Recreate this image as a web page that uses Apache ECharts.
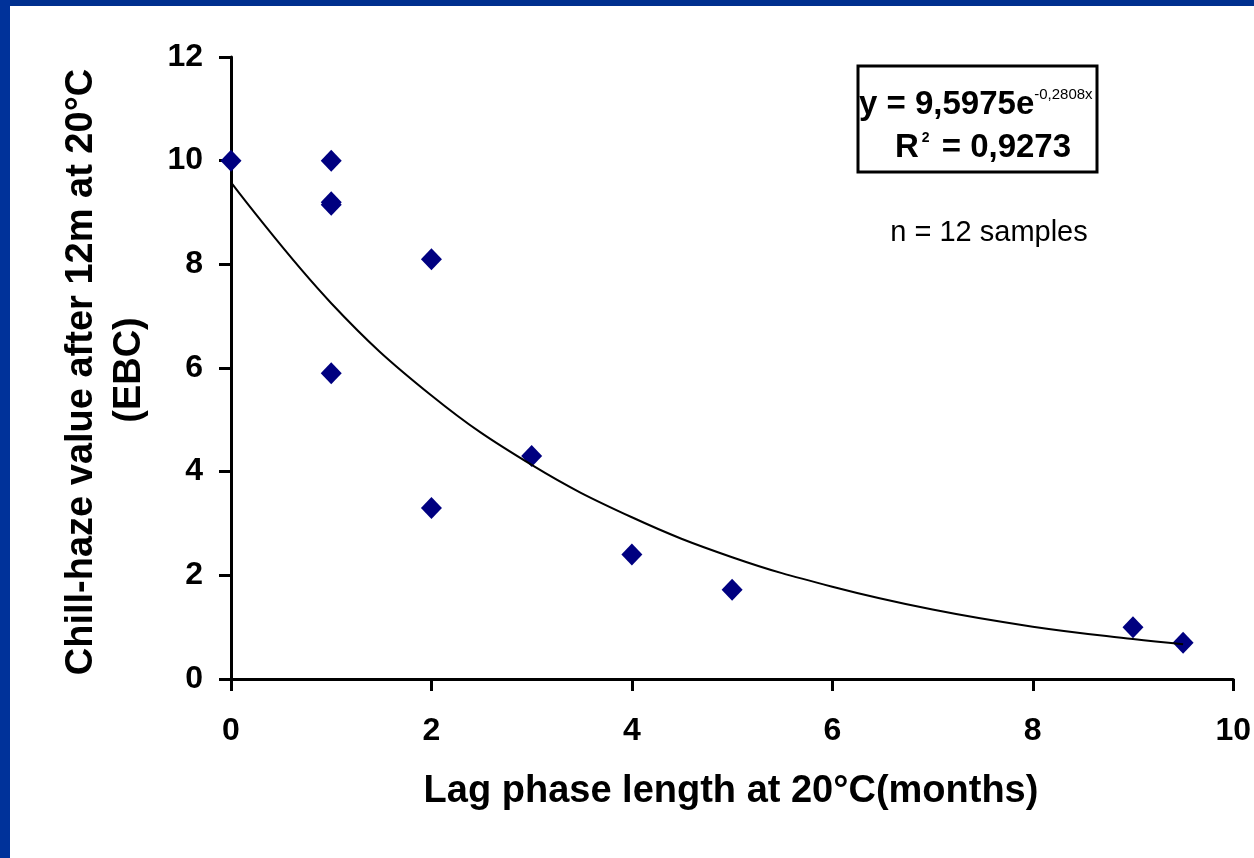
<!DOCTYPE html>
<html><head><meta charset="utf-8">
<script src="https://cdn.jsdelivr.net/npm/echarts@6/dist/echarts.min.js"></script>
<style>html,body{margin:0;padding:0;background:#fff}#c{width:1254px;height:858px}</style>
</head><body><div id="c"></div>
<script>
// Observed samples: lag phase (months) vs chill-haze (EBC)
const lagMonths = [0, 1, 1, 1, 1, 2, 2, 3, 4, 5, 9, 9.5];
const chillHaze = [10.0, 10.0, 9.2, 9.15, 5.9, 8.1, 3.3, 4.3, 2.4, 1.72, 1.0, 0.7];
// Exponential trend line
const trendX = [0, 1, 2, 3, 4, 5, 6, 7, 8, 9, 9.5];
const trendY = [9.58, 7.25, 5.47, 4.13, 3.12, 2.35, 1.78, 1.34, 1.01, 0.77, 0.67];
const xTicks = [0, 2, 4, 6, 8, 10];
const yTicks = [0, 2, 4, 6, 8, 10, 12];
const xTitle = 'Lag phase length at 20°C(months)';
const yTitle1 = 'Chill-haze value after 12m at 20°C';
const yTitle2 = '(EBC)';
const eqMain = 'y = 9,5975e';
const eqExp = '-0,2808x';
const r2Text = '= 0,9273';
const nText = 'n = 12 samples';

const FONT = '"Liberation Sans", Arial, sans-serif';
const chart = echarts.init(document.getElementById('c'), null, {renderer: 'canvas'});
const axisCommon = {
  axisLine: {show: true, lineStyle: {color: '#000', width: 3}},
  axisTick: {show: true, inside: false, length: 12, lineStyle: {color: '#000', width: 3}},
  splitLine: {show: false},
};
chart.setOption({
  animation: false,
  backgroundColor: '#fff',
  grid: {left: 231, top: 57, right: 17, bottom: 179, containLabel: false},
  xAxis: Object.assign({
    type: 'value', min: xTicks[0], max: xTicks[xTicks.length - 1], interval: 2,
    axisLabel: {color: '#000', fontFamily: FONT, fontWeight: 'bold', fontSize: 32, margin: 36, showMaxLabel: true}
  }, axisCommon),
  yAxis: Object.assign({
    type: 'value', min: yTicks[0], max: yTicks[yTicks.length - 1], interval: 2,
    axisLabel: {color: '#000', fontFamily: FONT, fontWeight: 'bold', fontSize: 32, margin: 28}
  }, axisCommon),
  series: [
    {
      type: 'scatter', symbol: 'diamond', symbolSize: [21, 22],
      itemStyle: {color: '#000080', opacity: 1},
      emphasis: {disabled: true},
      data: lagMonths.map((x, i) => [x, chillHaze[i]]), z: 2
    },
    {
      type: 'line', smooth: 0.4, showSymbol: false, symbol: 'none',
      lineStyle: {color: '#000', width: 2},
      data: trendX.map((x, i) => [x, trendY[i]]), z: 3
    }
  ],
  graphic: [
    {type: 'rect', shape: {x: 0, y: 0, width: 1254, height: 6}, style: {fill: '#00308f'}, z: 100},
    {type: 'rect', shape: {x: 0, y: 0, width: 10, height: 858}, style: {fill: '#00329a'}, z: 100},
    {type: 'text', x: 731, y: 792, style: {text: xTitle, fill: '#000', font: 'bold 38px ' + FONT, textAlign: 'center', textVerticalAlign: 'middle'}},
    {type: 'text', x: 82, y: 372, rotation: Math.PI / 2, style: {text: yTitle1, fill: '#000', font: 'bold 38px ' + FONT, textAlign: 'center', textVerticalAlign: 'middle'}},
    {type: 'text', x: 130, y: 370, rotation: Math.PI / 2, style: {text: yTitle2, fill: '#000', font: 'bold 38px ' + FONT, textAlign: 'center', textVerticalAlign: 'middle'}},
    {type: 'rect', shape: {x: 858, y: 66, width: 239, height: 106}, style: {fill: '#fff', stroke: '#000', lineWidth: 3}, z: 10},
    {type: 'text', x: 859, y: 105, z: 11, style: {
      text: '{m|' + eqMain + '}{s|' + eqExp + '}', textVerticalAlign: 'middle',
      rich: {m: {font: 'bold 33px ' + FONT, fill: '#000'}, s: {font: '15px ' + FONT, fill: '#000', verticalAlign: 'top', padding: [0, 0, 20, 0]}}
    }},
    {type: 'text', x: 983, y: 148, z: 11, style: {
      text: '{m|R}{s|2}{m| ' + r2Text + '}', textAlign: 'center', textVerticalAlign: 'middle',
      rich: {m: {font: 'bold 33px ' + FONT, fill: '#000'}, s: {font: 'bold 14px ' + FONT, fill: '#000', verticalAlign: 'top', padding: [0, 3, 16, 3]}}
    }},
    {type: 'text', x: 989, y: 233, style: {text: nText, fill: '#000', font: '29px ' + FONT, textAlign: 'center', textVerticalAlign: 'middle'}}
  ]
});
</script></body></html>
